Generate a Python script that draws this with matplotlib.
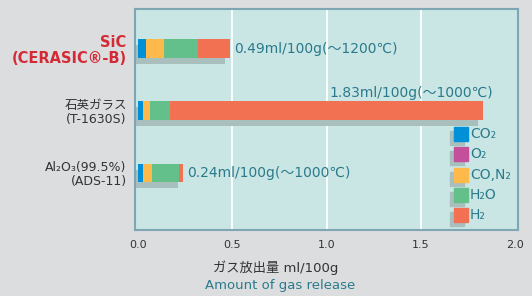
import numpy as np
import matplotlib
matplotlib.use("Agg")
import matplotlib.pyplot as plt
from matplotlib import transforms
from matplotlib.patches import Rectangle

plt.rcParams['font.family'] = ['DejaVu Sans', 'Noto Sans CJK JP']

samples = ["SiC\n(CERASIC®-B)", "石英ガラス\n(T-1630S)", "Al₂O₃(99.5%)\n(ADS-11)"]
gases = ["CO₂", "O₂", "CO,N₂", "H₂O", "H₂"]
co2 = [0.045, 0.027, 0.025]
o2 = [0.0, 0.0, 0.0]
co_n2 = [0.095, 0.037, 0.05]
h2o = [0.18, 0.106, 0.14]
h2 = [0.17, 1.66, 0.025]
totals = [0.49, 1.83, 0.24]
notes = ["0.49ml/100g(～1200℃)", "1.83ml/100g(～1000℃)", "0.24ml/100g(～1000℃)"]
xticks = [0.0, 0.5, 1.0, 1.5, 2.0]

gas_colors = ["#0090d8", "#c4509c", "#fdb94a", "#63c08a", "#f37153"]
bg = "#dcdddf"
panel = "#c9e6e5"
shadow = "#a9bfbe"
teal = "#2b7a8c"

W, H = 532, 296
fig = plt.figure(figsize=(W / 100, H / 100), dpi=100, facecolor=bg)
ax = fig.add_axes([135 / W, 1 - 230 / H, 383 / W, 221 / H])
ax.set_facecolor(panel)

ax.set_xlim(-3 / 188.5, 2.0 + 3 / 188.5)
ax.set_ylim(2.916, -0.635)

for xv in xticks[1:-1]:
    ax.axvline(xv, color="white", lw=1.3, zorder=1)

ypos = np.arange(len(samples))
bh = 0.305
shadow_tr = ax.transData + transforms.ScaledTranslation(-5 / 100, -6 / 100, fig.dpi_scale_trans)
ax.barh(ypos, totals, height=bh, left=0, color=shadow, transform=shadow_tr, zorder=2)

left = np.zeros(len(samples))
for vals, c in zip([co2, o2, co_n2, h2o, h2], gas_colors):
    ax.barh(ypos, vals, height=bh, left=left, color=c, zorder=3)
    left += np.array(vals)

for i, (t, note) in enumerate(zip(totals, notes)):
    if t > 1.5:
        ax.annotate(note, xy=(t, ypos[i] - 0.29), xytext=(7, 0), textcoords="offset points",
                    ha="right", va="center", fontsize=10, color=teal, zorder=4)
    else:
        ax.annotate(note, xy=(t, ypos[i]), xytext=(3, 0), textcoords="offset points",
                    ha="left", va="center", fontsize=10, color=teal, zorder=4)

ax.set_yticks(ypos)
ax.set_yticklabels(samples)
for k, lab in enumerate(ax.get_yticklabels()):
    lab.set_linespacing(1.1)
    lab.set_multialignment("right")
    if k == 0:
        lab.set_color("#d42a36")
        lab.set_fontweight("bold")
        lab.set_fontsize(10.5)
    else:
        lab.set_color("#333333")
        lab.set_fontsize(9)
ax.tick_params(axis="y", length=0, pad=6)

ax.set_xticks(xticks)
ax.set_xticklabels([f"{v:.1f}" for v in xticks])
ax.tick_params(axis="x", length=0, pad=7, labelsize=8, labelcolor="#333333")

for s in ax.spines.values():
    s.set_color("#7fa6b3")
    s.set_linewidth(1.5)

# legend with shadows
sq = 14
for j, (g, c) in enumerate(zip(gases, gas_colors)):
    cy = 134 + j * 20.3
    x0 = 454
    fig.patches.append(Rectangle(((x0 - 4) / W, 1 - (cy + 7 + 4) / H), sq / W, sq / H,
                                 transform=fig.transFigure, color=shadow, zorder=5))
    fig.patches.append(Rectangle((x0 / W, 1 - (cy + 7) / H), sq / W, sq / H,
                                 transform=fig.transFigure, color=c, zorder=6))
    fig.text((x0 + sq + 2) / W, 1 - cy / H, g, ha="left", va="center",
             fontsize=10, color=teal, zorder=7)

fig.text(276 / W, 1 - 268 / H, "ガス放出量 ml/100g", ha="center", va="center",
         fontsize=9.5, color="#333333")
fig.text(280 / W, 1 - 286 / H, "Amount of gas release", ha="center", va="center",
         fontsize=9.5, color=teal)

fig.savefig("out.png", dpi=100, facecolor=bg)
